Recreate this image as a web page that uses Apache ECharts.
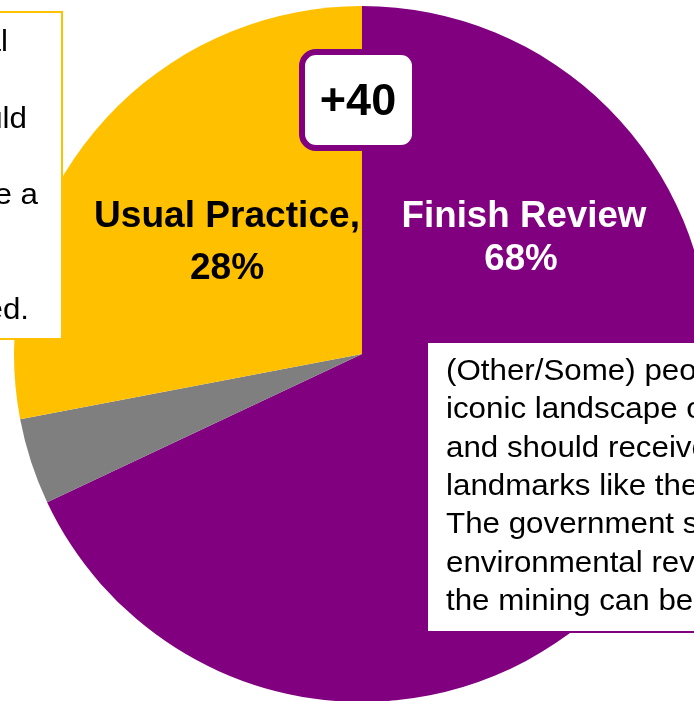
<!DOCTYPE html>
<html>
<head>
<meta charset="utf-8">
<script src="https://cdn.jsdelivr.net/npm/echarts@6/dist/echarts.min.js"></script>
<style>
html,body{margin:0;padding:0;background:#fff;}
#chart{width:694px;height:701px;}
</style>
</head>
<body>
<div id="chart"></div>
<script>
var categories = ['Finish Review', 'Other', 'Usual Practice'];
var values = [68, 4, 28];
var colors = ['#800080', '#7F7F7F', '#FFC000'];
var marginLabel = '+40';
var leftBoxLines = [
  '(Other/Some) people say the area is not special',
  'and should be treated like any other',
  'mining project. The government should',
  'follow its usual practice, which takes',
  'a few months, to decide whether to give a',
  'permit. After that the mining can',
  'go ahead and it will then be',
  'approved.'
];
var leftLineEnds = [8, -20, 27, -20, 38, -20, -20, 29];
var rightBoxLines = [
  '(Other/Some) people say the area is an',
  'iconic landscape of Australia',
  'and should receive protection like',
  'landmarks like the Great Barrier Reef.',
  'The government should finish the',
  'environmental review before deciding if',
  'the mining can be approved.'
];

var chart = echarts.init(document.getElementById('chart'), null, {renderer: 'canvas'});
var FONT = '"Liberation Sans", Arial, sans-serif';

function txt(x, y, t, font, fill, align, sx) {
  return {type: 'text', z: 101, x: x, y: y, scaleX: sx || 1,
    style: {text: t, font: font, fill: fill, align: align, verticalAlign: 'middle',
      textAlign: align, textVerticalAlign: 'middle'}};
}

var graphics = [];
// left box (yellow border)
graphics.push({type: 'rect', z: 100, shape: {x: -300, y: 12, width: 362, height: 327},
  style: {fill: '#fff', stroke: '#FFC000', lineWidth: 2}});
leftBoxLines.forEach(function (t, i) {
  graphics.push(txt(leftLineEnds[i], 43 + i * 38.3, t, '29px ' + FONT, '#000', 'right', 1.08));
});
// right box (purple border)
graphics.push({type: 'rect', z: 100, shape: {x: 427, y: 342, width: 320, height: 290},
  style: {fill: '#fff', stroke: '#800080', lineWidth: 2}});
rightBoxLines.forEach(function (t, i) {
  graphics.push(txt(446, 372 + i * 38.3, t, '29px ' + FONT, '#000', 'left', 1.08));
});
// margin box
graphics.push({type: 'rect', z: 100, shape: {x: 302, y: 52, width: 113, height: 96, r: 14},
  style: {fill: '#fff', stroke: '#800080', lineWidth: 6}});
graphics.push(txt(358, 103, marginLabel, 'bold 45px ' + FONT, '#000', 'center'));
// slice labels
graphics.push(txt(524, 217, categories[0], 'bold 36px ' + FONT, '#fff', 'center', 1.02));
graphics.push(txt(521, 260, values[0] + '%', 'bold 36px ' + FONT, '#fff', 'center', 1.02));
graphics.push(txt(227, 217, categories[2] + ',', 'bold 36px ' + FONT, '#000', 'center', 1.03));
graphics.push(txt(227, 269, values[2] + '%', 'bold 36px ' + FONT, '#000', 'center', 1.03));

chart.setOption({
  animation: false,
  backgroundColor: '#fff',
  series: [{
    type: 'pie',
    center: [362, 354],
    radius: [0, 348],
    startAngle: 90,
    clockwise: true,
    silent: true,
    label: {show: false},
    labelLine: {show: false},
    emphasis: {disabled: true},
    itemStyle: {borderWidth: 0},
    data: categories.map(function (c, i) {
      return {name: c, value: values[i], itemStyle: {color: colors[i]}};
    })
  }],
  graphic: {elements: graphics}
});
</script>
</body>
</html>
